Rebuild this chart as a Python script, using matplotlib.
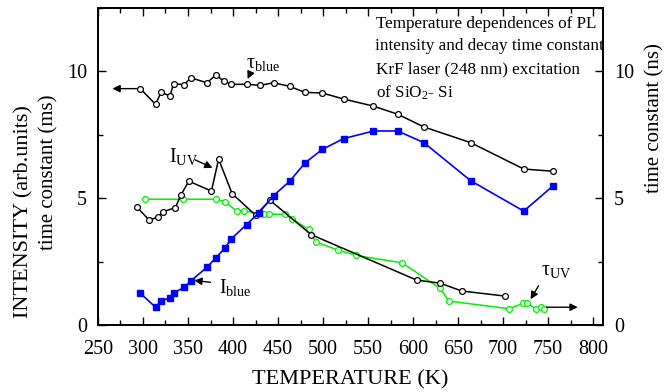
import matplotlib
matplotlib.use("Agg")
import matplotlib.pyplot as plt
from matplotlib.ticker import MultipleLocator

plt.rcParams["font.family"] = "Liberation Serif"
plt.rcParams["mathtext.fontset"] = "custom"
plt.rcParams["mathtext.rm"] = "Liberation Serif"
plt.rcParams["mathtext.it"] = "Liberation Serif:italic"

# tau_blue: decay time of the blue band (ns, right axis)
t_tau_blue = [297, 314, 320, 330, 334, 346, 353, 371, 381, 390, 398, 415, 430,
              445, 463, 480, 499, 523, 556, 583, 612, 664, 723, 756]
tau_blue = [9.32, 8.70, 9.17, 9.04, 9.51, 9.48, 9.75, 9.55, 9.86, 9.61, 9.49,
            9.49, 9.45, 9.55, 9.41, 9.17, 9.15, 8.91, 8.63, 8.31, 7.81, 7.19,
            6.15, 6.06]

# I_blue: blue PL intensity (arb. units)
t_i_blue = [297, 314, 320, 330, 334, 346, 353, 371, 381, 391, 398, 415, 429,
            445, 463, 480, 499, 523, 556, 583, 612, 664, 723, 756]
i_blue = [1.25, 0.70, 0.94, 1.07, 1.27, 1.48, 1.74, 2.27, 2.65, 3.03, 3.39,
          3.96, 4.43, 5.10, 5.67, 6.39, 6.92, 7.35, 7.65, 7.65, 7.19, 5.69,
          4.49, 5.50]

# I_UV: UV PL intensity (arb. units)
t_i_uv = [293, 307, 317, 322, 336, 342, 351, 376, 384, 399, 425, 441, 487,
          604, 630, 654, 702]
i_uv = [4.66, 4.13, 4.26, 4.46, 4.63, 5.12, 5.67, 5.28, 6.54, 5.18, 4.33,
        4.92, 3.56, 1.77, 1.65, 1.34, 1.14]

# tau_UV: decay time of the UV band (ms, left axis)
t_tau_uv = [302, 345, 381, 391, 404, 412, 434, 440, 458, 466, 484, 492, 517,
            537, 588, 630, 640, 707, 722, 727, 737, 742, 745]
tau_uv = [4.96, 4.96, 4.96, 4.86, 4.50, 4.50, 4.37, 4.37, 4.36, 4.17, 3.77,
          3.27, 2.95, 2.74, 2.45, 1.44, 0.94, 0.64, 0.85, 0.85, 0.63, 0.70,
          0.63]

fig = plt.figure(figsize=(6.72, 3.92), dpi=100)
ax = fig.add_axes([0.1458, 0.171, 0.7515, 0.8086])
ax2 = ax.twinx()

open_mk = dict(marker="o", ms=4.2, mfc="white", mew=0.9)
ax.plot(t_tau_uv, tau_uv, color="#00f000", lw=1.1, mec="#00f000", **open_mk, zorder=3)
ax.plot(t_i_uv, i_uv, color="black", lw=1.1, mec="black", **open_mk, zorder=4)
ax.plot(t_i_blue, i_blue, color="#0000ff", lw=1.2, marker="s", ms=4.2,
        mfc="#0000ff", mec="#0000ff", zorder=5)
ax.plot(t_tau_blue, tau_blue, color="black", lw=1.1, mec="black", **open_mk, zorder=4)

for a in (ax, ax2):
    a.set_xlim(250, 811)
    a.set_ylim(0, 12.5)
    a.yaxis.set_major_locator(MultipleLocator(5))
    a.yaxis.set_minor_locator(MultipleLocator(2.5))
    for s in a.spines.values():
        s.set_linewidth(1.3)

ax.xaxis.set_major_locator(MultipleLocator(50))
ax.xaxis.set_minor_locator(MultipleLocator(25))
ax.tick_params(which="both", direction="in", top=True, right=False,
               labelsize=14.5, width=1.0)
ax.tick_params(which="major", length=6)
ax.tick_params(which="minor", length=3.5)
ax.tick_params(axis="x", pad=11)
ax.tick_params(axis="y", pad=8)
ax2.tick_params(which="both", direction="in", labelsize=14.5, width=1.0)
ax2.tick_params(which="major", length=6, pad=8)
ax2.tick_params(which="minor", length=3.5)

ax.set_xlabel("TEMPERATURE (K)", fontsize=16, labelpad=8)
fig.text(0.036, 0.46, "INTENSITY (arb.units)", rotation=90, fontsize=16,
         ha="center", va="center")
fig.text(0.073, 0.56, "time constant (ms)", rotation=90, fontsize=15,
         ha="center", va="center")
fig.text(0.975, 0.70, "time constant (ns)", rotation=90, fontsize=15,
         ha="center", va="center")

# direction arrows: which axis each tau curve belongs to
arr = dict(arrowstyle="-|>", color="black", lw=1.0, mutation_scale=11)
ax.annotate("", xy=(263, tau_blue[0]), xytext=(t_tau_blue[0], tau_blue[0]),
            arrowprops=arr)
ax.annotate("", xy=(786, tau_uv[-2]), xytext=(t_tau_uv[-1], tau_uv[-2]),
            arrowprops=arr)

# curve labels
lab = dict(fontsize=14.5, ha="left", va="baseline")
ax.annotate("", xy=(415, 9.6), xytext=(420, 10.0), arrowprops=arr)
ax.text(414, 10.12, r"$\mathrm{τ}_{\mathrm{blue}}$", **lab)
ax.annotate("", xy=(380, 6.15), xytext=(355, 6.56), arrowprops=arr)
ax.text(329, 6.43, r"$\mathrm{I}_{\mathrm{UV}}$", **lab)
ax.annotate("", xy=(354, 1.77), xytext=(378, 1.67), arrowprops=arr)
ax.text(384, 1.26, r"$\mathrm{I}_{\mathrm{blue}}$", **lab)
ax.annotate("", xy=(729, 0.92), xytext=(741, 1.64), arrowprops=arr)
ax.text(742, 1.97, r"$\mathrm{τ}_{\mathrm{UV}}$", **lab)

note = dict(fontsize=12.3, ha="left", va="baseline")
ax.text(559, 11.73, "Temperature dependences of PL", **note)
ax.text(558, 10.83, "intensity and decay time constant", **note)
ax.text(559, 9.92, "KrF laser (248 nm) excitation", **note)
ax.text(559, 8.98, r"of SiO$_2$- Si", **note)

fig.savefig("out.png", dpi=100)
